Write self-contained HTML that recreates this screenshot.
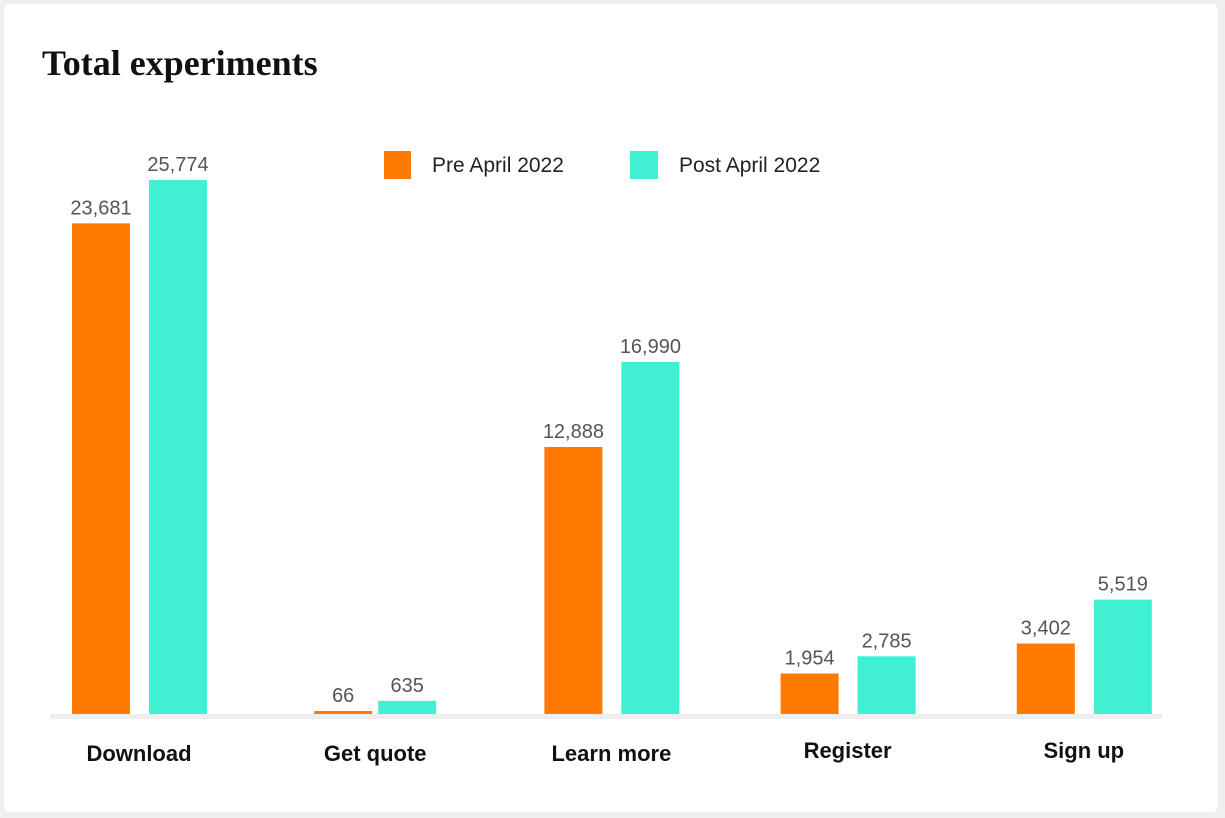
<!DOCTYPE html>
<html><head><meta charset="utf-8"><style>
body{margin:0;background:#efefef;width:1225px;height:818px;overflow:hidden}
#card{position:absolute;left:4px;top:4px;width:1214px;height:808px;background:#fff;border-radius:6px}
text{font-family:"Liberation Sans",sans-serif}
</style></head><body>
<div id="card"></div>
<svg id="chart" width="1225" height="818" style="position:absolute;left:0;top:0">
<text x="42" y="75" font-family="Liberation Serif" font-size="36" font-weight="bold" fill="#111" style="font-family:'Liberation Serif',serif">Total experiments</text>
<rect x="50" y="714" width="1112" height="5" fill="#eeeeee"/>
<g>
<rect x="384" y="151" width="27" height="28" fill="#FF7A00"/>
<text x="432" y="172" font-size="21" fill="#222">Pre April 2022</text>
<rect x="630" y="151" width="28" height="28" fill="#40F0D2"/>
<text x="679" y="172" font-size="21" fill="#222">Post April 2022</text>
</g>
<g id="bars"></g>
</svg>
<script>
const categories=["Download","Get quote","Learn more","Register","Sign up"];
const preValues=[23681,66,12888,1954,3402];
const postValues=[25774,635,16990,2785,5519];
const NS="http://www.w3.org/2000/svg";
const base=714, scale=534/25774;
const y=v=>base-v*scale;
const cx=i=>139+i*236.2;
const labelY=[753,753,753,750,750];
const g=document.getElementById('bars');
function mk(tag,attrs){const e=document.createElementNS(NS,tag);for(const k in attrs)e.setAttribute(k,attrs[k]);g.appendChild(e);return e;}
categories.forEach((c,i)=>{
  const pv=preValues[i], qv=postValues[i];
  const px=cx(i)-67, qx=cx(i)+(i==1?3:10);
  const pxx=i==1?cx(i)-61:px;
  const r1=mk('rect',{x:pxx,y:Math.min(y(pv),base-3),width:58,height:Math.max(base-y(pv),3),fill:'#FF7A00'});
  
  
  const r2=mk('rect',{x:qx,y:y(qv),width:58,height:base-y(qv),fill:'#40F0D2'});
  
  
  const t1=mk('text',{x:pxx+29,y:Math.min(y(pv),base-3)-9,'text-anchor':'middle','font-size':20,fill:'#555'});
  t1.textContent=pv.toLocaleString('en-US');
  
  
  const t2=mk('text',{x:qx+29,y:y(qv)-9,'text-anchor':'middle','font-size':20,fill:'#555'});
  t2.textContent=qv.toLocaleString('en-US');
  
  
  const t3=mk('text',{x:cx(i),y:labelY[i]+8,'text-anchor':'middle','font-size':22,'font-weight':'bold',fill:'#111'});
  t3.textContent=c;
  
  
});
</script>
</body></html>
